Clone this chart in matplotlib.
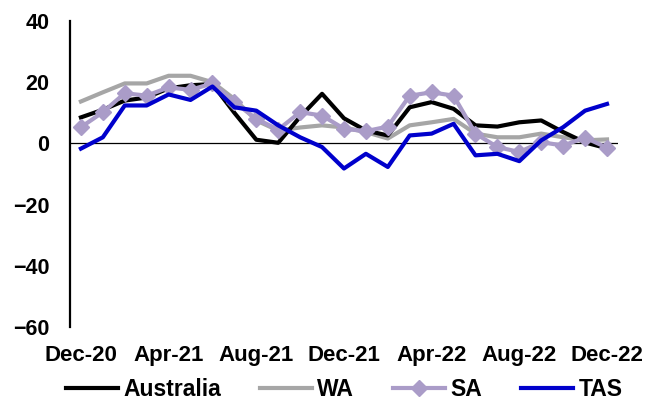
import numpy as np
import matplotlib
matplotlib.use("Agg")
import matplotlib.pyplot as plt

plt.rcParams["font.family"] = ["Liberation Sans", "DejaVu Sans"]
plt.rcParams["font.weight"] = "bold"

months = ["Dec-20", "Jan-21", "Feb-21", "Mar-21", "Apr-21", "May-21", "Jun-21",
          "Jul-21", "Aug-21", "Sep-21", "Oct-21", "Nov-21", "Dec-21", "Jan-22",
          "Feb-22", "Mar-22", "Apr-22", "May-22", "Jun-22", "Jul-22", "Aug-22",
          "Sep-22", "Oct-22", "Nov-22", "Dec-22"]

australia = [8.5, 11.0, 14.0, 15.0, 18.0, 19.0, 19.4, 10.0, 1.2, 0.2, 8.7, 16.2,
             8.2, 4.2, 2.6, 11.8, 13.5, 11.3, 5.9, 5.5, 6.9, 7.5, 3.7, 0.3, -1.6]
wa = [13.7, 16.7, 19.6, 19.6, 22.1, 22.1, 20.0, 14.5, 7.5, 4.2, 5.2, 5.9,
      5.2, 3.7, 1.6, 5.9, 6.9, 8.0, 3.2, 2.0, 2.0, 3.2, 2.0, 1.0, 1.3]
sa = [5.3, 10.2, 16.4, 15.6, 18.3, 17.5, 19.6, 13.5, 8.0, 4.5, 10.2, 9.1,
      4.8, 4.0, 5.5, 15.6, 16.7, 15.6, 3.2, -1.2, -2.8, 0.4, -0.7, 1.9, -1.4]
tas = [-1.7, 2.0, 12.4, 12.4, 16.0, 14.2, 18.6, 11.8, 10.7, 5.9, 2.0, -1.2,
       -8.2, -3.4, -7.7, 2.6, 3.2, 6.4, -3.9, -3.4, -5.8, 1.0, 5.3, 10.7, 12.9]

x = np.arange(len(months))

fig = plt.figure(figsize=(6.62, 4.04), dpi=100)
ax = fig.add_axes([0.1057, 0.1906, 0.8278, 0.7574])

ax.plot(x, australia, color="black", lw=3, label="Australia", zorder=3)
ax.plot(x, wa, color="#a6a6a6", lw=3, label="WA", zorder=2)
ax.plot(x, sa, color="#aa9cc8", lw=3, marker="D", ms=8.5, label="SA", zorder=4)
ax.plot(x, tas, color="#0000cc", lw=3, label="TAS", zorder=5)

ax.axhline(0, color="black", lw=0.9, zorder=1)

ax.set_xlim(-0.5, len(months) - 0.5)
ax.set_ylim(-60, 40)
ax.set_yticks([-60, -40, -20, 0, 20, 40])
ax.set_xticks(x[::4])
ax.set_xticklabels(months[::4])
ax.tick_params(axis="both", length=0)
ax.tick_params(axis="x", pad=13, labelsize=16)
ax.tick_params(axis="y", pad=15, labelsize=15.5)

for side in ["top", "right", "bottom"]:
    ax.spines[side].set_visible(False)
ax.spines["left"].set_linewidth(1.6)

fig.legend(loc="center", bbox_to_anchor=(0.52, 0.035), ncol=4, frameon=False,
           fontsize=16.5, handlelength=2.25, handletextpad=0.25,
           columnspacing=1.7, borderaxespad=0)

fig.savefig("out.png", dpi=100)
